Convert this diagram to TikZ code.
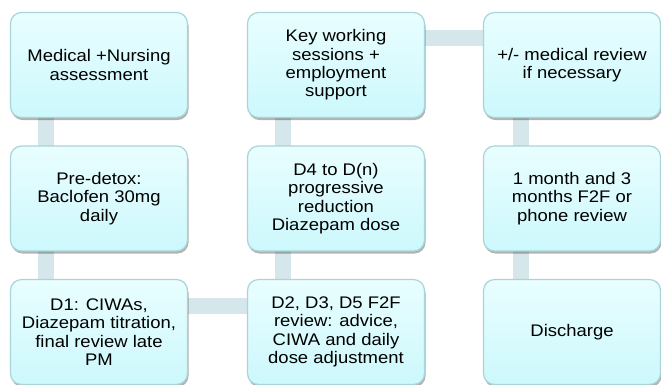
\documentclass[tikz,border=0pt]{standalone}
\usepackage{fontspec}
\setmainfont{Liberation Sans}[FakeStretch=1.1]
\usepackage{tikz}
\usetikzlibrary{backgrounds,shadows}

\definecolor{boxtop}{HTML}{E9FEFF}
\definecolor{boxbottom}{HTML}{CCF8FC}
\definecolor{boxedge}{HTML}{A8D4DA}
\definecolor{linkcol}{HTML}{D5E7EB}

\begin{document}
\begin{tikzpicture}[x=1pt, y=-1pt,
    stage/.style={draw=boxedge, line width=1.2pt, rounded corners=11pt,
        top color=boxtop, bottom color=boxbottom,
        minimum width=177pt, minimum height=105pt, inner sep=2pt,
        align=center, font=\fontsize{16.8}{18.3}\selectfont,
        drop shadow={shadow xshift=1pt, shadow yshift=-2.5pt, opacity=0.3, fill=black}},
    link/.style={linkcol, line width=16pt}]
    \useasboundingbox (0,0) rectangle (661,384);

    \node[stage] (medical) at (99,65) {Medical +Nursing\\assessment};
    \node[stage] (keywork) at (336,65) {Key working\\sessions +\\employment\\support};
    \node[stage] (review) at (572,65) {+/- medical review\\if necessary};

    \node[stage] (predetox) at (99,198.5) {Pre-detox:\\Baclofen 30mg\\daily};
    \node[stage] (reduction) at (336,198.5) {D4 to D(n)\\progressive\\reduction\\Diazepam dose};
    \node[stage] (followup) at (572,198.5) {1 month and 3\\months F2F or\\phone review};

    \node[stage] (dayone) at (99,332) {D1: CIWAs,\\Diazepam titration,\\final review late\\PM};
    \node[stage] (daytwo) at (336,332) {D2, D3, D5 F2F\\review: advice,\\CIWA and daily\\dose adjustment};
    \node[stage] (discharge) at (572,332) {Discharge};

    % connectors behind the boxes
    \begin{scope}[on background layer]
        \draw[link] ([xshift=-53pt]medical.center) -- ([xshift=-53pt]predetox.center);
        \draw[link] ([xshift=-53pt]predetox.center) -- ([xshift=-53pt]dayone.center);
        \draw[link] ([yshift=26pt]dayone.center) -- ([yshift=26pt]daytwo.center);
        \draw[link] ([xshift=-53pt]daytwo.center) -- ([xshift=-53pt]reduction.center);
        \draw[link] ([xshift=-53pt]reduction.center) -- ([xshift=-53pt]keywork.center);
        \draw[link] ([yshift=27pt]keywork.center) -- ([yshift=27pt]review.center);
        \draw[link] ([xshift=-51pt]review.center) -- ([xshift=-51pt]followup.center);
        \draw[link] ([xshift=-51pt]followup.center) -- ([xshift=-51pt]discharge.center);
    \end{scope}
\end{tikzpicture}
\end{document}
